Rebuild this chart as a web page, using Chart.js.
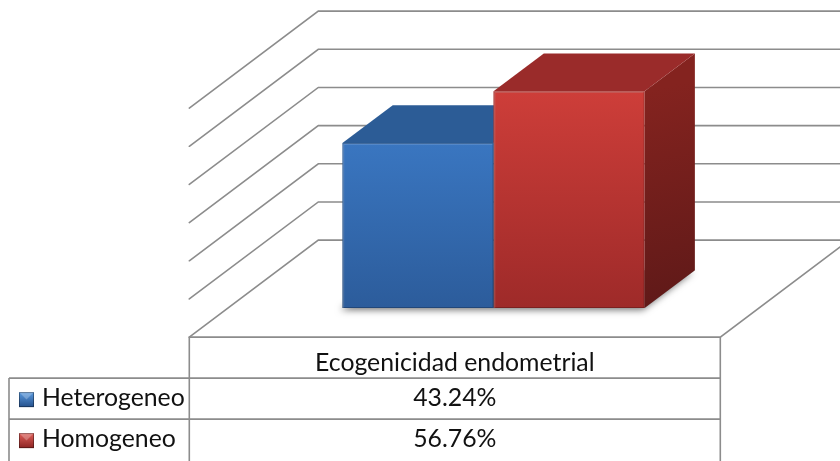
<!DOCTYPE html>
<html>
<head>
<meta charset="utf-8">
<script src="https://cdn.jsdelivr.net/npm/chart.js@4.4.1/dist/chart.umd.min.js"></script>
<style>
  html, body { margin: 0; padding: 0; background: #ffffff; }
  #wrap { width: 840px; height: 461px; }
</style>
</head>
<body>
<div id="wrap"><canvas id="c" width="840" height="461"></canvas></div>
<script>
// ---- data ----
const categories = ['Ecogenicidad endometrial'];
const seriesNames = ['Heterogeneo', 'Homogeneo'];
const heterogeneoValues = [43.24];
const homogeneoValues = [56.76];
const axisTicks = [0, 10, 20, 30, 40, 50, 60];

// ---- 3D look ----
// full floor depth vector (back -> front is (-DEPTH_X, +DEPTH_Y))
const DEPTH_X = 129, DEPTH_Y = 97;
const FRONT_PLANE = 0.70;   // bar front plane, as fraction of depth measured from back wall
const BAR_DEPTH = 0.39;     // bar depth as fraction of full depth
const LINE_COLOR = '#8c8c8c';
const FONT_FAMILY = 'Lato, "Open Sans", "DejaVu Sans", sans-serif';

const palette = [
  { frontTop: '#3f80cf', frontBottom: '#2c5c9b', top: '#2c5c96', sideTop: '#264f84', sideBottom: '#1b3a62', marker: ['#5b9be0', '#24508c'] },
  { frontTop: '#d03f3a', frontBottom: '#9e2a29', top: '#9a2b2a', sideTop: '#84231f', sideBottom: '#5e1918', marker: ['#e0605a', '#8c2322'] }
];

function frontGradient(i) {
  return function (ctx) {
    const chart = ctx.chart;
    const area = chart.chartArea;
    if (!area) return palette[i].frontTop;
    const g = chart.ctx.createLinearGradient(0, area.top, 0, area.bottom);
    g.addColorStop(0, palette[i].frontTop);
    g.addColorStop(1, palette[i].frontBottom);
    return g;
  };
}

const seriesValues = [heterogeneoValues, homogeneoValues];

const threeD = {
  id: 'threeD',
  beforeDatasetsDraw(chart) {
    const ctx = chart.ctx;
    const xs = chart.scales.x, ys = chart.scales.y;
    const backDX = DEPTH_X * FRONT_PLANE, backDY = -DEPTH_Y * FRONT_PLANE;
    const floorDX = -DEPTH_X * (1 - FRONT_PLANE), floorDY = DEPTH_Y * (1 - FRONT_PLANE);
    const bl = xs.left + backDX, br = xs.right + backDX;
    const fl = xs.left + floorDX, fr = xs.right + floorDX;

    ctx.save();
    ctx.strokeStyle = LINE_COLOR;
    ctx.lineWidth = 1.6;
    ctx.lineCap = 'round';
    // back wall gridlines plus side wall diagonals
    axisTicks.forEach(v => {
      const yb = ys.getPixelForValue(v) + backDY;
      ctx.beginPath();
      ctx.moveTo(bl - DEPTH_X, yb + DEPTH_Y);
      ctx.lineTo(bl, yb);
      ctx.lineTo(br, yb);
      ctx.stroke();
    });
    // floor front and right edges
    const y0f = ys.getPixelForValue(0) + floorDY;
    const y0b = ys.getPixelForValue(0) + backDY;
    ctx.beginPath();
    ctx.moveTo(fl, y0f);
    ctx.lineTo(fr, y0f);
    ctx.lineTo(br, y0b);
    ctx.stroke();
    ctx.restore();

    // soft shadow under the bars
    const bdx = DEPTH_X * BAR_DEPTH, bdy = -DEPTH_Y * BAR_DEPTH;
    const bars = chart.getSortedVisibleDatasetMetas().map(m => m.data[0].getProps(['x', 'y', 'base', 'width'], true));
    const minL = Math.min(...bars.map(b => b.x - b.width / 2));
    const maxR = Math.max(...bars.map(b => b.x + b.width / 2));
    const base = bars[0].base;
    ctx.save();
    ctx.shadowColor = 'rgba(0,0,0,0.55)';
    ctx.shadowBlur = 7;
    ctx.shadowOffsetX = -2;
    ctx.shadowOffsetY = 2;
    ctx.fillStyle = '#888';
    ctx.beginPath();
    ctx.moveTo(minL, base);
    ctx.lineTo(maxR, base);
    ctx.lineTo(maxR + bdx, base + bdy);
    ctx.lineTo(minL + bdx, base + bdy);
    ctx.closePath();
    ctx.fill();
    ctx.restore();

    // top and side faces, drawn before the front faces so neighbours cover them
    bars.forEach((b, i) => {
      const l = b.x - b.width / 2, r = b.x + b.width / 2;
      const p = palette[i];
      ctx.save();
      const sg = ctx.createLinearGradient(r, b.y, r + bdx, b.base);
      sg.addColorStop(0, p.sideTop);
      sg.addColorStop(1, p.sideBottom);
      ctx.fillStyle = sg;
      ctx.beginPath();
      ctx.moveTo(r, b.y);
      ctx.lineTo(r + bdx, b.y + bdy);
      ctx.lineTo(r + bdx, b.base + bdy);
      ctx.lineTo(r, b.base);
      ctx.closePath();
      ctx.fill();
      ctx.fillStyle = p.top;
      ctx.beginPath();
      ctx.moveTo(l, b.y);
      ctx.lineTo(l + bdx, b.y + bdy);
      ctx.lineTo(r + bdx, b.y + bdy);
      ctx.lineTo(r, b.y);
      ctx.closePath();
      ctx.fill();
      ctx.restore();
    });
  },
  afterDatasetsDraw(chart) {
    const ctx = chart.ctx;
    chart.getSortedVisibleDatasetMetas().forEach(m => {
      const b = m.data[0].getProps(['x', 'y', 'base', 'width'], true);
      const l = b.x - b.width / 2, r = b.x + b.width / 2;
      ctx.save();
      ctx.strokeStyle = 'rgba(255,255,255,0.18)';
      ctx.lineWidth = 1.5;
      ctx.beginPath();
      ctx.moveTo(l + 1, b.base);
      ctx.lineTo(l + 1, b.y + 1);
      ctx.lineTo(r - 1, b.y + 1);
      ctx.stroke();
      ctx.strokeStyle = 'rgba(0,0,0,0.22)';
      ctx.lineWidth = 1;
      ctx.strokeRect(l + 0.5, b.y + 0.5, b.width - 1, b.base - b.y - 1);
      ctx.restore();
    });
  },
  afterDraw(chart) {
    // data table below the floor
    const ctx = chart.ctx;
    const xs = chart.scales.x, ys = chart.scales.y;
    const floorDX = -DEPTH_X * (1 - FRONT_PLANE), floorDY = DEPTH_Y * (1 - FRONT_PLANE);
    const colL = xs.left + floorDX, colR = xs.right + floorDX;
    const top = ys.getPixelForValue(0) + floorDY;
    const rowH = 41;
    const legendL = 9;
    const H = chart.height;

    ctx.save();
    // fit the table font to the header width
    ctx.font = '20px ' + FONT_FAMILY;
    const w20 = ctx.measureText(categories[0]).width;
    const fs = Math.round(20 * 280 / w20 * 10) / 10;
    ctx.font = fs + 'px ' + FONT_FAMILY;

    ctx.strokeStyle = LINE_COLOR;
    ctx.lineWidth = 1.6;
    ctx.beginPath();
    ctx.moveTo(colL, top); ctx.lineTo(colL, H);
    ctx.moveTo(colR, top); ctx.lineTo(colR, H);
    ctx.moveTo(legendL, top + rowH); ctx.lineTo(legendL, H);
    for (let r = 1; r <= seriesNames.length; r++) {
      ctx.moveTo(legendL, top + rowH * r);
      ctx.lineTo(colR, top + rowH * r);
    }
    ctx.stroke();

    ctx.fillStyle = '#111111';
    ctx.textAlign = 'center';
    ctx.textBaseline = 'alphabetic';
    const cx = (colL + colR) / 2;
    ctx.fillText(categories[0], cx, top + 34);

    seriesNames.forEach((name, i) => {
      const rt = top + rowH * (i + 1);
      const baseLine = rt + 28;
      // legend marker
      const mx = 19, my = rt + 14, ms = 15;
      const g = ctx.createLinearGradient(mx, my, mx, my + ms);
      g.addColorStop(0, palette[i].marker[0]);
      g.addColorStop(1, palette[i].marker[1]);
      ctx.fillStyle = g;
      ctx.fillRect(mx, my, ms, ms);
      ctx.fillStyle = 'rgba(255,255,255,0.25)';
      ctx.beginPath();
      ctx.moveTo(mx, my); ctx.lineTo(mx + ms, my); ctx.lineTo(mx + ms / 2, my + ms / 2); ctx.closePath();
      ctx.fill();
      ctx.strokeStyle = 'rgba(0,0,0,0.35)';
      ctx.lineWidth = 1;
      ctx.strokeRect(mx + 0.5, my + 0.5, ms - 1, ms - 1);

      ctx.fillStyle = '#111111';
      ctx.textAlign = 'left';
      ctx.fillText(name, 42, baseLine);
      ctx.textAlign = 'center';
      ctx.fillText(seriesValues[i][0].toFixed(2) + '%', cx, baseLine);
    });
    ctx.restore();
  }
};

new Chart(document.getElementById('c'), {
  type: 'bar',
  data: {
    labels: categories,
    datasets: [
      { label: seriesNames[0], data: heterogeneoValues, backgroundColor: frontGradient(0), borderWidth: 0 },
      { label: seriesNames[1], data: homogeneoValues, backgroundColor: frontGradient(1), borderWidth: 0 }
    ]
  },
  options: {
    responsive: false,
    devicePixelRatio: 1,
    animation: false,
    layout: { padding: { left: 228, right: 81, top: 79, bottom: 153 } },
    datasets: { bar: { categoryPercentage: 0.569, barPercentage: 1.0 } },
    scales: {
      x: { display: false },
      y: { display: false, min: 0, max: 60, ticks: { stepSize: 10 } }
    },
    plugins: { legend: { display: false }, tooltip: { enabled: false } }
  },
  plugins: [threeD]
});
</script>
</body>
</html>
